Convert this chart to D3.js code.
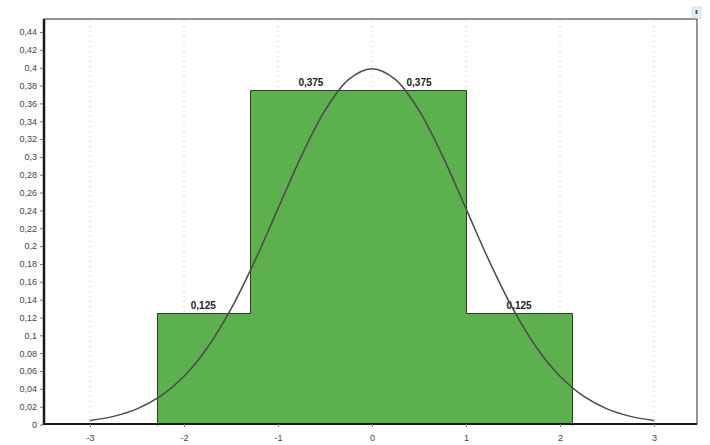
<!DOCTYPE html>
<html>
<head>
<meta charset="utf-8">
<script src="https://cdn.jsdelivr.net/npm/d3@7"></script>
<style>
  html, body { margin: 0; padding: 0; background: #fff; }
  svg text { font-family: "Liberation Sans", Arial, sans-serif; }
</style>
</head>
<body>
<svg id="chart" width="710" height="445"></svg>
<script>
// Histogram bins (edges in standard units) and their probabilities
const binEdges = [-2.29, -1.30, 0, 1.0, 2.13];
const binValues = [0.125, 0.375, 0.375, 0.125];
const binLabels = ["0,125", "0,375", "0,375", "0,125"];

// Density curve points
const curveX = [-3, -2.75, -2.5, -2.25, -2, -1.75, -1.5, -1.25, -1, -0.75, -0.5, -0.25, 0,
                 0.25, 0.5, 0.75, 1, 1.25, 1.5, 1.75, 2, 2.25, 2.5, 2.75, 3];
const curveY = [0.0044, 0.0091, 0.0175, 0.0317, 0.054, 0.0863, 0.1295, 0.1826, 0.242, 0.3011, 0.3521, 0.3867, 0.3989,
                0.3867, 0.3521, 0.3011, 0.242, 0.1826, 0.1295, 0.0863, 0.054, 0.0317, 0.0175, 0.0091, 0.0044];

// Axis ticks
const xTicks = [-3, -2, -1, 0, 1, 2, 3];
const yTicks = [0, 0.02, 0.04, 0.06, 0.08, 0.1, 0.12, 0.14, 0.16, 0.18, 0.2, 0.22,
                0.24, 0.26, 0.28, 0.3, 0.32, 0.34, 0.36, 0.38, 0.4, 0.42, 0.44];

const svg = d3.select("#chart");
const frame = { left: 44, right: 697, top: 19, bottom: 424 };

const x = d3.scaleLinear().domain([0, 1]).range([372, 466]);
const y = d3.scaleLinear().domain([0, 0.44]).range([424.5, 32]);

const fmt = d3.formatLocale({ decimal: ",", thousands: ".", grouping: [3], currency: ["", ""], minus: "-" }).format("~g");

// faint dotted vertical grid
svg.append("g").selectAll("line").data(xTicks).join("line")
  .attr("x1", d => x(d)).attr("x2", d => x(d))
  .attr("y1", frame.top + 2).attr("y2", frame.bottom)
  .attr("stroke", "#c4c4c4").attr("stroke-width", 1)
  .attr("stroke-dasharray", "1,4");

// bars
const bins = binValues.map((v, i) => ({ x0: binEdges[i], x1: binEdges[i + 1], v, label: binLabels[i] }));
svg.append("g").attr("shape-rendering", "crispEdges")
  .selectAll("rect").data(bins).join("rect")
  .attr("x", d => Math.round(x(d.x0)))
  .attr("y", d => Math.round(y(d.v)))
  .attr("width", d => Math.round(x(d.x1)) - Math.round(x(d.x0)))
  .attr("height", d => Math.round(y(0)) - Math.round(y(d.v)))
  .attr("fill", "#5cb04e");

// outline of the histogram
const stepPts = [[binEdges[0], 0]];
bins.forEach(d => { stepPts.push([d.x0, d.v]); stepPts.push([d.x1, d.v]); });
stepPts.push([binEdges[binEdges.length - 1], 0]);
svg.append("path")
  .attr("d", d3.line().x(d => Math.round(x(d[0])) + 0.5).y(d => Math.round(y(d[1])) + 0.5)(stepPts))
  .attr("fill", "none").attr("stroke", "#2e3d2a").attr("stroke-width", 1);

// bar labels
svg.append("g").selectAll("text").data(bins).join("text")
  .attr("x", d => (x(d.x0) + x(d.x1)) / 2)
  .attr("y", d => y(d.v) - 4)
  .attr("text-anchor", "middle")
  .attr("font-size", 10).attr("font-weight", "bold").attr("fill", "#222")
  .text(d => d.label);

// density curve
svg.append("path")
  .datum(curveX.map((v, i) => [v, curveY[i]]))
  .attr("d", d3.line().x(d => x(d[0])).y(d => y(d[1])).curve(d3.curveCatmullRom))
  .attr("fill", "none").attr("stroke", "#4a4a4a").attr("stroke-width", 1.5);

// frame
svg.append("rect")
  .attr("x", frame.left).attr("y", frame.top)
  .attr("width", frame.right - frame.left).attr("height", frame.bottom - frame.top)
  .attr("fill", "none").attr("stroke", "#2a2a2a").attr("stroke-width", 1);
svg.append("line")
  .attr("x1", frame.left).attr("x2", frame.left)
  .attr("y1", frame.top).attr("y2", frame.bottom + 1)
  .attr("stroke", "#1a1a1a").attr("stroke-width", 2.5);
svg.append("line")
  .attr("x1", frame.left).attr("x2", frame.right)
  .attr("y1", frame.bottom).attr("y2", frame.bottom)
  .attr("stroke", "#1a1a1a").attr("stroke-width", 2);

// y axis
const yAxis = d3.axisLeft(y).tickValues(yTicks).tickFormat(fmt).tickSize(3).tickPadding(3);
const gy = svg.append("g").attr("transform", `translate(${frame.left - 1},0)`).call(yAxis);
gy.select(".domain").remove();
gy.selectAll(".tick line").attr("stroke", "#777");
gy.selectAll(".tick text").attr("font-size", 9).attr("fill", "#444")
  .attr("font-family", "Liberation Sans, Arial, sans-serif");

// x axis
const xAxis = d3.axisBottom(x).tickValues(xTicks).tickFormat(fmt).tickSize(3).tickPadding(8);
const gx = svg.append("g").attr("transform", `translate(0,${frame.bottom})`).call(xAxis);
gx.select(".domain").remove();
gx.selectAll(".tick line").attr("stroke", "#777");
gx.selectAll(".tick text").attr("font-size", 9).attr("fill", "#444")
  .attr("font-family", "Liberation Sans, Arial, sans-serif");

// small corner marker
svg.append("rect").attr("x", 692).attr("y", 7).attr("width", 9).attr("height", 11)
  .attr("fill", "#e3eef8").attr("stroke", "#c9d9ea").attr("stroke-width", 0.8);
svg.append("rect").attr("x", 695.5).attr("y", 10).attr("width", 2).attr("height", 4)
  .attr("fill", "#556");
</script>
</body>
</html>
